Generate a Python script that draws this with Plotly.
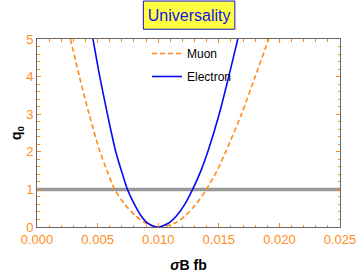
import plotly.graph_objects as go

# q0 curves (x = sigma*B in fb)
electron_x = [0.00462, 0.00518, 0.00581, 0.00650, 0.00696, 0.00746, 0.00804, 0.00858, 0.00914, 0.00990,
              0.01084, 0.01152, 0.01219, 0.01284, 0.01353, 0.01409, 0.01503, 0.01582, 0.01657]
electron_q = [5.0, 4.0, 3.0, 2.0, 1.5, 1.0, 0.6, 0.3, 0.1, 0.0,
              0.1, 0.3, 0.6, 1.0, 1.5, 2.0, 3.0, 4.0, 5.0]

muon_x = [0.00275, 0.00350, 0.00430, 0.00520, 0.00578, 0.00641, 0.00725, 0.00812, 0.00900, 0.01020,
          0.01136, 0.01223, 0.01311, 0.01397, 0.01486, 0.01557, 0.01687, 0.01800, 0.01913]
muon_q = [5.0, 4.0, 3.0, 2.0, 1.5, 1.0, 0.6, 0.3, 0.1, 0.0,
          0.1, 0.3, 0.6, 1.0, 1.5, 2.0, 3.0, 4.0, 5.0]

ref_x = [0.0, 0.025]
ref_q = [1.0, 1.0]

orange = '#FF8C1A'
axis_grey = '#666666'
font_name = 'Liberation Sans, Arial, sans-serif'

fig = go.Figure()
fig.add_trace(go.Scatter(x=ref_x, y=ref_q, mode='lines',
                         line=dict(color='#999999', width=3.5),
                         showlegend=False, hoverinfo='skip'))
fig.add_trace(go.Scatter(x=muon_x, y=muon_q, mode='lines', name='Muon', legendgroup='m',
                         line=dict(color=orange, width=1.6, dash='5px,3px', shape='spline', smoothing=0.8)))
fig.add_trace(go.Scatter(x=electron_x, y=electron_q, mode='lines', name='Electron', legendgroup='e',
                         line=dict(color='#0A0AF0', width=1.6, shape='spline', smoothing=0.8)))

tick_font = dict(family=font_name, size=13, color=orange)

fig.update_xaxes(range=[0, 0.025], dtick=0.005, tickformat='.3f', automargin=False,
                 showline=True, linecolor=axis_grey, linewidth=1, mirror='ticks',
                 ticks='inside', ticklen=4, tickcolor=orange, tickwidth=1,
                 minor=dict(dtick=0.001, ticks='inside', ticklen=2.5, tickcolor=orange),
                 showgrid=False, zeroline=False, tickfont=tick_font,
                 title=dict(text='<b><i>σ</i>B fb</b>', standoff=14,
                            font=dict(family=font_name, size=14, color='black')))
fig.update_yaxes(range=[0, 5], dtick=1, automargin=False,
                 showline=True, linecolor=axis_grey, linewidth=1, mirror='ticks',
                 ticks='inside', ticklen=4, tickcolor=orange, tickwidth=1,
                 minor=dict(dtick=0.2, ticks='inside', ticklen=2.5, tickcolor=orange),
                 showgrid=False, zeroline=False, tickfont=tick_font,
                 title=dict(text='<b>q<sub>0</sub></b>', standoff=1,
                            font=dict(family=font_name, size=14, color='black')))

fig.update_layout(
    width=360, height=273,
    margin=dict(l=37, r=20, t=39, b=46),
    plot_bgcolor='white', paper_bgcolor='white',
    showlegend=True,
    legend=dict(x=0.363, y=1.0, xanchor='left', yanchor='top',
                bgcolor='rgba(0,0,0,0)', tracegroupgap=4,
                font=dict(family=font_name, size=12, color='black')),
    title=dict(text='Universality', x=0.502, xanchor='center', xref='paper',
               y=0.945, yanchor='middle', yref='container', automargin=False,
               font=dict(family=font_name, size=16, color='#1414E6')),
)

# yellow framed title box
fig.add_shape(type='rect', xref='paper', yref='paper',
              x0=0.351, x1=0.653, y0=1.052, y1=1.202,
              fillcolor='#FFFF40', line=dict(color='#1414C8', width=1), layer='below')

# drop the default page margin so the figure sits at the window corner
fig.write_html("out.html", config={'displayModeBar': False},
               post_script="document.body.style.margin='0';")
